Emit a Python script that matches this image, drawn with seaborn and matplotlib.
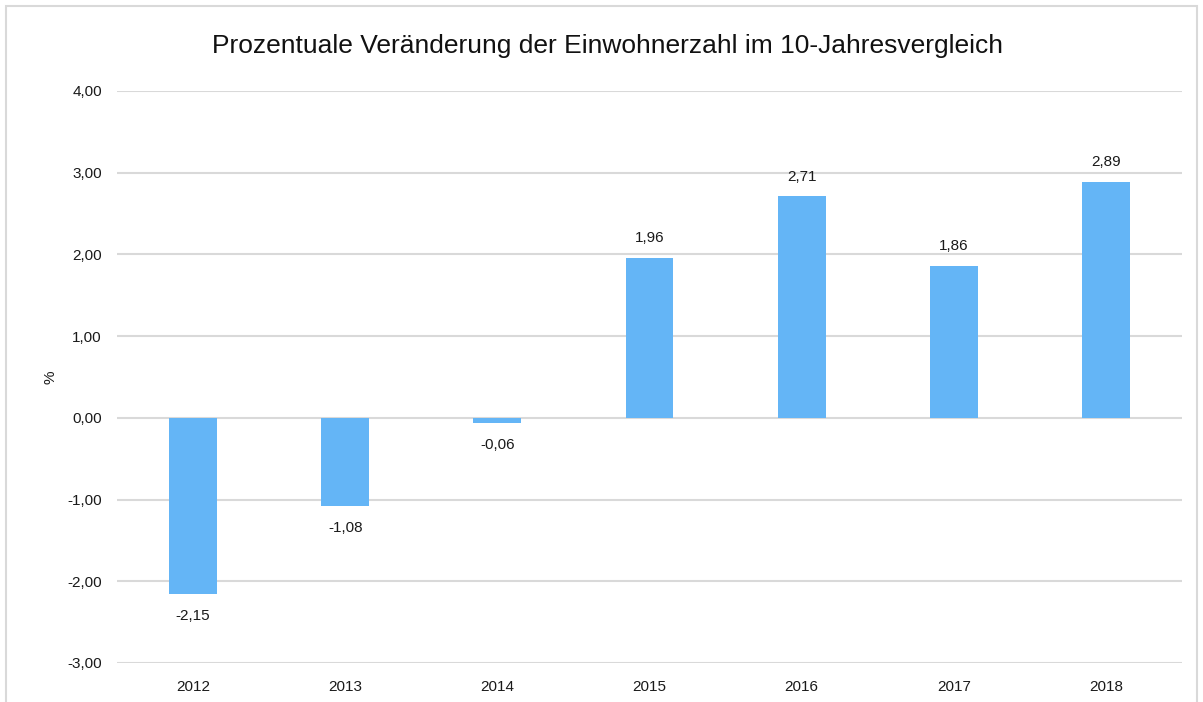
import pandas as pd
import matplotlib.pyplot as plt
import matplotlib.patches as patches
import seaborn as sns

# Data
years = ["2012", "2013", "2014", "2015", "2016", "2017", "2018"]
change_pct = [-2.15, -1.08, -0.06, 1.96, 2.71, 1.86, 2.89]

df = pd.DataFrame({"Jahr": years, "Veraenderung": change_pct})

sns.set_theme(style="white")
plt.rcParams["font.family"] = ["Liberation Sans", "DejaVu Sans"]

fig = plt.figure(figsize=(12.03, 7.02), dpi=100)
ax = fig.add_axes([0.0973, 0.0556, 0.8852, 0.8148])

sns.barplot(data=df, x="Jahr", y="Veraenderung", color="#64b5f6",
            saturation=1, width=0.315, linewidth=0, ax=ax, zorder=3)

# Axis styling
ax.set_ylim(-3, 4)
ax.set_yticks(range(-3, 5))
ax.set_yticklabels([f"{v:.2f}".replace(".", ",") for v in range(-3, 5)])
ax.set_xlim(-0.5, len(years) - 0.5)
ax.yaxis.grid(True, color="#d9d9d9", linewidth=1.5, zorder=0)
ax.set_axisbelow(True)
for s in ax.spines.values():
    s.set_visible(False)
ax.tick_params(axis="both", length=0, labelsize=11, colors="#1a1a1a")
ax.tick_params(axis="y", pad=11)
ax.tick_params(axis="x", pad=12)
ax.set_xlabel("")
ax.set_ylabel("%", fontsize=11, color="#1a1a1a", labelpad=7)

# Value labels
for i, v in enumerate(change_pct):
    label = f"{v:.2f}".replace(".", ",")
    if v >= 0:
        ax.annotate(label, (i, v), xytext=(0, 14), textcoords="offset points",
                    ha="center", va="center", fontsize=11, color="#1a1a1a")
    else:
        ax.annotate(label, (i, v), xytext=(0, -16), textcoords="offset points",
                    ha="center", va="center", fontsize=11, color="#1a1a1a")

fig.text(0.5046, 0.935, "Prozentuale Veränderung der Einwohnerzahl im 10-Jahresvergleich",
         ha="center", va="center", fontsize=19, color="#111111")

# Light frame around the chart
frame = patches.Rectangle((0.005, -0.05), 0.99, 1.0415, transform=fig.transFigure,
                          fill=False, edgecolor="#d9d9d9", linewidth=1.5, clip_on=False)
fig.patches.append(frame)

fig.savefig("out.png", dpi=100)
